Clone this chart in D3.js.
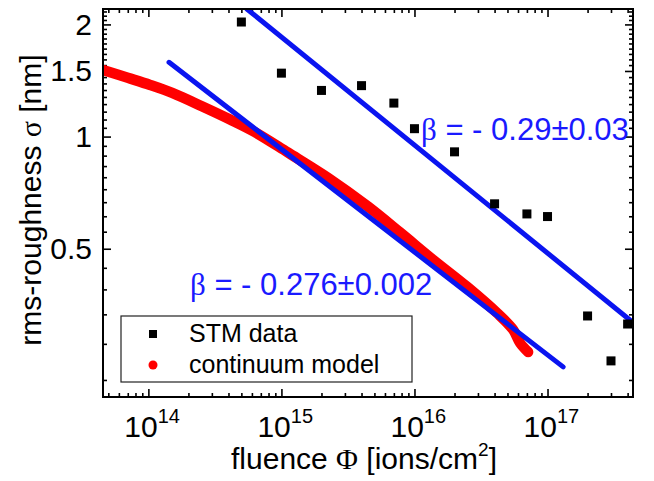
<!doctype html>
<html>
<head>
<script src="https://cdnjs.cloudflare.com/ajax/libs/d3/7.8.5/d3.min.js"></script>
<style>
  body { margin: 0; background: #fff; }
  text { font-family: "Liberation Sans", Arial, sans-serif; }
</style>
</head>
<body>
<svg id="chart" width="654" height="481"></svg>
<script>
// STM measurements
var stmFluence = [5e14, 1e15, 2e15, 4e15, 7e15, 1e16, 2e16, 4e16, 7e16, 1e17, 2e17, 3e17, 4e17];
var stmRoughness = [2.03, 1.48, 1.33, 1.37, 1.23, 1.05, 0.91, 0.66, 0.62, 0.61, 0.33, 0.25, 0.314];

// continuum model curve
var modelFluence = [4.56e13, 7.0e13, 1.03e14, 1.51e14, 2.67e14, 4.11e14, 6.34e14, 1.12e15, 2.24e15,
                    4.47e15, 7.79e15, 1.38e16, 2.49e16, 4.18e16, 5.52e16, 6.23e16, 7.15e16];
var modelRoughness = [1.509, 1.438, 1.376, 1.31, 1.195, 1.111, 1.027, 0.906, 0.775,
                      0.649, 0.553, 0.467, 0.395, 0.336, 0.303, 0.279, 0.264];

// power-law fits: sigma = amplitude * (fluence / 1e16)^exponent
var fitAmplitude = [0.949, 0.49];
var fitExponent = [-0.29, -0.276];
var fitFrom = [5.5e14, 1.43e14];
var fitTo = [4.39e17, 1.31e17];
var fitLabels = ["0.29±0.03", "0.276±0.002"];

var xTickExps = [14, 15, 16, 17];
var yTickLabels = [0.5, 1, 1.5, 2];
var legendLabels = ["STM data", "continuum model"];

var W = 654, H = 481;
var m = {left: 103, top: 9, right: 21, bottom: 84};
var pw = W - m.left - m.right, ph = H - m.top - m.bottom;

var svg = d3.select("#chart");
var g = svg.append("g").attr("transform", "translate(" + m.left + "," + m.top + ")");

var x = d3.scaleLog().domain([4.56e13, 4.39e17]).range([0, pw]);
var y = d3.scaleLog().domain([0.2, 2.2]).range([ph, 0]);

svg.append("defs").append("clipPath").attr("id", "clip")
  .append("rect").attr("width", pw).attr("height", ph);

// minor ticks
var xMinor = [];
d3.range(13, 18).forEach(function(e) {
  d3.range(2, 10).forEach(function(k) {
    var v = k * Math.pow(10, e);
    if (v >= x.domain()[0] && v <= x.domain()[1]) xMinor.push(v);
  });
});
var yMinor = d3.range(1, 40).filter(function(k) { return k % 9 !== 0; })
  .map(function(k) { return k / 18; })
  .filter(function(v) { return v >= 0.2 && v <= 2.2; });
var xMajor = xTickExps.map(function(e) { return Math.pow(10, e); });

function styleAxis(sel) {
  sel.select(".domain").remove();
  sel.selectAll("line").attr("stroke", "#000").attr("stroke-width", 1.6);
}

g.append("g").attr("transform", "translate(0," + ph + ")")
  .call(d3.axisBottom(x).tickValues(xMinor).tickSize(-4).tickSizeOuter(0).tickFormat(""))
  .call(styleAxis);
g.append("g").attr("transform", "translate(0," + ph + ")")
  .call(d3.axisBottom(x).tickValues(xMajor).tickSize(-8).tickSizeOuter(0).tickFormat(""))
  .call(styleAxis);
g.append("g")
  .call(d3.axisTop(x).tickValues(xMinor).tickSize(-4).tickSizeOuter(0).tickFormat(""))
  .call(styleAxis);
g.append("g")
  .call(d3.axisTop(x).tickValues(xMajor).tickSize(-8).tickSizeOuter(0).tickFormat(""))
  .call(styleAxis);
g.append("g")
  .call(d3.axisLeft(y).tickValues(yMinor).tickSize(-4).tickSizeOuter(0).tickFormat(""))
  .call(styleAxis);
g.append("g")
  .call(d3.axisLeft(y).tickValues(yTickLabels).tickSize(-8).tickSizeOuter(0).tickPadding(11)
    .tickFormat(d3.format("")))
  .call(styleAxis)
  .selectAll("text").attr("font-size", 30).attr("font-family", "Liberation Sans, Arial, sans-serif")
  .attr("fill", "#000");
g.append("g").attr("transform", "translate(" + pw + ",0)")
  .call(d3.axisRight(y).tickValues(yMinor).tickSize(-4).tickSizeOuter(0).tickFormat(""))
  .call(styleAxis);
g.append("g").attr("transform", "translate(" + pw + ",0)")
  .call(d3.axisRight(y).tickValues(yTickLabels).tickSize(-8).tickSizeOuter(0).tickFormat(""))
  .call(styleAxis);

// x tick labels 10^n
var xl = g.selectAll(".xlab").data(xTickExps).enter().append("text")
  .attr("class", "xlab")
  .attr("x", function(e) { return x(Math.pow(10, e)) - 24; })
  .attr("y", ph + 40)
  .attr("font-size", 30);
xl.append("tspan").text("10");
xl.append("tspan").attr("dy", -14).attr("font-size", 20).text(function(e) { return e; });

// model curve
var modelData = modelFluence.map(function(f, i) { return [f, modelRoughness[i]]; });
var plot = g.append("g").attr("clip-path", "url(#clip)");
plot.append("path").datum(modelData)
  .attr("fill", "none").attr("stroke", "#ff0000").attr("stroke-width", 10.5)
  .attr("stroke-linecap", "round").attr("stroke-linejoin", "round")
  .attr("d", d3.line().curve(d3.curveCatmullRom)
    .x(function(d) { return x(d[0]); }).y(function(d) { return y(d[1]); }));

// fit lines
fitAmplitude.forEach(function(a, i) {
  var pts = [fitFrom[i], fitTo[i]].map(function(f) { return [f, a * Math.pow(f / 1e16, fitExponent[i])]; });
  plot.append("line")
    .attr("x1", x(pts[0][0])).attr("y1", y(pts[0][1]))
    .attr("x2", x(pts[1][0])).attr("y2", y(pts[1][1]))
    .attr("stroke", "#0a14f0").attr("stroke-width", 5).attr("stroke-linecap", "round");
});

// STM squares
var stmData = stmFluence.map(function(f, i) { return [f, stmRoughness[i]]; });
g.selectAll(".stm").data(stmData).enter().append("rect")
  .attr("class", "stm")
  .attr("x", function(d) { return x(d[0]) - 4.5; })
  .attr("y", function(d) { return y(d[1]) - 4.5; })
  .attr("width", 9).attr("height", 9).attr("fill", "#000");

// frame
g.append("rect").attr("width", pw).attr("height", ph)
  .attr("fill", "none").attr("stroke", "#000").attr("stroke-width", 2);

// fit annotations
var annPos = [[318, 131], [87, 286]];
fitLabels.forEach(function(t, i) {
  var tx = g.append("text").attr("x", annPos[i][0]).attr("y", annPos[i][1])
    .attr("font-size", 31).attr("fill", "#1a1aff");
  tx.append("tspan").attr("font-family", "Liberation Serif, serif").text("β");
  tx.append("tspan").text(" = - " + t);
});

// legend
var lg = g.append("g").attr("transform", "translate(" + (121 - m.left) + "," + (316 - m.top) + ")");
lg.append("rect").attr("width", 291).attr("height", 66)
  .attr("fill", "#fff").attr("stroke", "#222").attr("stroke-width", 1.2);
lg.append("rect").attr("x", 28).attr("y", 14).attr("width", 8).attr("height", 8).attr("fill", "#000");
lg.append("circle").attr("cx", 32).attr("cy", 49).attr("r", 4.5).attr("fill", "#ff0000");
lg.selectAll(".lt").data(legendLabels).enter().append("text")
  .attr("x", 68).attr("y", function(d, i) { return 26 + i * 31; })
  .attr("font-size", 25).text(function(d) { return d; });

// axis titles
var xt = svg.append("text").attr("x", 364).attr("y", 469)
  .attr("text-anchor", "middle").attr("font-size", 30);
xt.append("tspan").text("fluence ");
xt.append("tspan").attr("font-family", "Liberation Serif, serif").text("Φ");
xt.append("tspan").text(" [ions/cm");
xt.append("tspan").attr("dy", -13).attr("font-size", 19).text("2");
xt.append("tspan").attr("dy", 13).text("]");

var yt = svg.append("text").attr("transform", "translate(41,200) rotate(-90)")
  .attr("text-anchor", "middle").attr("font-size", 30);
yt.append("tspan").text("rms-roughness ");
yt.append("tspan").attr("font-family", "Liberation Serif, serif").text("σ");
yt.append("tspan").text(" [nm]");
</script>
</body>
</html>
